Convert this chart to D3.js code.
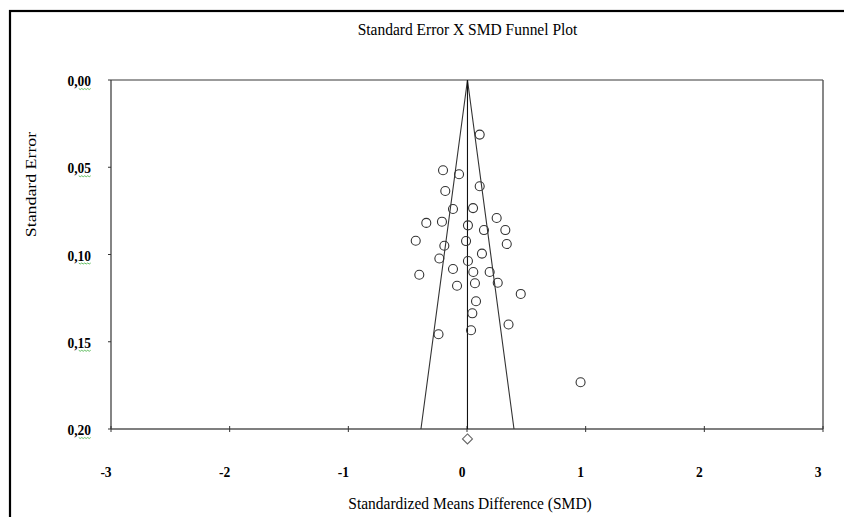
<!DOCTYPE html>
<html>
<head>
<meta charset="utf-8">
<script src="https://cdn.jsdelivr.net/npm/d3@7"></script>
<style>
  html, body { margin: 0; padding: 0; background: #fff; }
  svg { display: block; }
  text { font-family: "Liberation Serif", "Times New Roman", serif; fill: #000; }
</style>
</head>
<body>
<svg id="chart" width="844" height="517"></svg>
<script>
// ---- data ----
const titleText = "Standard Error X SMD Funnel Plot";
const xTitle = "Standardized Means Difference (SMD)";
const yTitle = "Standard Error";
const xTicks = [-3, -2, -1, 0, 1, 2, 3];
const yTicks = [0, 0.05, 0.10, 0.15, 0.20];
const yTickLabels = ["0,00", "0,05", "0,10", "0,15", "0,20"];
const studySMD = [0.107, -0.202, -0.067, -0.183, 0.107, -0.118, 0.051, 0.250, -0.343, -0.211,
                  0.008, 0.143, 0.323, -0.432, -0.191, -0.008, 0.335, 0.126, -0.233, 0.008,
                  -0.402, -0.118, 0.053, 0.191, -0.084, 0.067, 0.259, 0.453, 0.076, 0.045,
                  0.350, 0.034, -0.240, 0.957];
const studySE  = [0.0313, 0.0517, 0.0540, 0.0636, 0.0609, 0.0739, 0.0734, 0.0791, 0.0819, 0.0812,
                  0.0833, 0.0860, 0.0860, 0.0921, 0.0950, 0.0923, 0.0940, 0.0995, 0.1023, 0.1037,
                  0.1116, 0.1083, 0.1100, 0.1100, 0.1179, 0.1165, 0.1162, 0.1226, 0.1268, 0.1337,
                  0.1401, 0.1434, 0.1457, 0.1732];
const pooledSMD = 0.004;
const pooledMarkerSE = 0.2057;
const zCrit = 1.96;

// ---- layout ----
const svg = d3.select("#chart");
const L = 111, R = 823, T = 80, B = 429;
const SY = 1.13; // vertical stretch of the text in the reference
const x = d3.scaleLinear().domain([-3, 3]).range([L, R]);
const y = d3.scaleLinear().domain([0, 0.20]).range([T, B]);

// outer frame
svg.append("rect").attr("x", 10).attr("y", 11).attr("width", 900).attr("height", 600)
  .attr("fill", "none").attr("stroke", "#000").attr("stroke-width", 2.2);

// plot frame: top and right (gray)
svg.append("line").attr("x1", L).attr("x2", R).attr("y1", T).attr("y2", T)
  .attr("stroke", "#7a7a7a").attr("stroke-width", 1.6);
svg.append("line").attr("x1", R).attr("x2", R).attr("y1", T).attr("y2", B)
  .attr("stroke", "#555").attr("stroke-width", 1.4);
// left axis
svg.append("line").attr("x1", L).attr("x2", L).attr("y1", T).attr("y2", B)
  .attr("stroke", "#333").attr("stroke-width", 1.2);
// bottom axis
svg.append("line").attr("x1", L).attr("x2", R).attr("y1", B).attr("y2", B)
  .attr("stroke", "#555").attr("stroke-width", 1.4);

// y ticks + labels
yTicks.forEach((v, i) => {
  svg.append("line").attr("x1", L - 3).attr("x2", L).attr("y1", y(v)).attr("y2", y(v))
    .attr("stroke", "#333").attr("stroke-width", 1);
  const t = svg.append("text").attr("transform", `translate(91,${y(v) + 6}) scale(1,${SY})`)
    .attr("text-anchor", "end")
    .attr("font-size", 13.5).attr("font-weight", "bold").text(yTickLabels[i]);
  // spell-check squiggle under decimals
  const w = t.node().getComputedTextLength();
  const x1 = 91, x0 = 91 - w * 0.52;
  const yy = y(v) + 8.5;
  let d = `M${x0},${yy}`;
  for (let k = x0, s = 0; k < x1 - 0.5; k += 1.5, s++) d += `L${k + 1.5},${yy + (s % 2 ? 0 : 1)}`;
  svg.append("path").attr("d", d).attr("fill", "none").attr("stroke", "#3fae3f").attr("stroke-width", 0.8);
});

// x ticks (crossing) + labels
xTicks.forEach(v => {
  svg.append("line").attr("x1", x(v)).attr("x2", x(v)).attr("y1", B - 3).attr("y2", B + 3)
    .attr("stroke", "#333").attr("stroke-width", 1);
  svg.append("text").attr("transform", `translate(${x(v) - 5},477) scale(1,${SY})`)
    .attr("text-anchor", "middle")
    .attr("font-size", 13.5).attr("font-weight", "bold").text(v);
});

// funnel
const seMax = 0.20;
const funnel = [[pooledSMD - zCrit * seMax, seMax], [pooledSMD, 0], [pooledSMD + zCrit * seMax, seMax]];
svg.append("path").attr("d", d3.line().x(d => x(d[0])).y(d => y(d[1]))(funnel))
  .attr("fill", "none").attr("stroke", "#333").attr("stroke-width", 1.1);
svg.append("line").attr("x1", x(pooledSMD)).attr("x2", x(pooledSMD)).attr("y1", y(0)).attr("y2", y(seMax))
  .attr("stroke", "#111").attr("stroke-width", 1.1);

// study points
svg.append("g").selectAll("circle").data(studySMD).join("circle")
  .attr("cx", d => x(d)).attr("cy", (d, i) => y(studySE[i])).attr("r", 4.5)
  .attr("fill", "none").attr("stroke", "#333").attr("stroke-width", 1.1);

// pooled diamond
const dx = x(pooledSMD), dy = y(pooledMarkerSE);
svg.append("path").attr("d", `M${dx},${dy - 5}L${dx + 5},${dy}L${dx},${dy + 5}L${dx - 5},${dy}Z`)
  .attr("fill", "none").attr("stroke", "#666").attr("stroke-width", 1.1);

// titles
svg.append("text").attr("transform", `translate(467.5,35) scale(1,${SY})`).attr("text-anchor", "middle")
  .attr("font-size", 15.5).text(titleText);
svg.append("text").attr("transform", `translate(470,509) scale(1,${SY})`).attr("text-anchor", "middle")
  .attr("font-size", 15.5).text(xTitle);
svg.append("text").attr("transform", `translate(36,184.5) scale(1,1.15) rotate(-90)`).attr("text-anchor", "middle")
  .attr("font-size", 15.5).text(yTitle);
</script>
</body>
</html>
